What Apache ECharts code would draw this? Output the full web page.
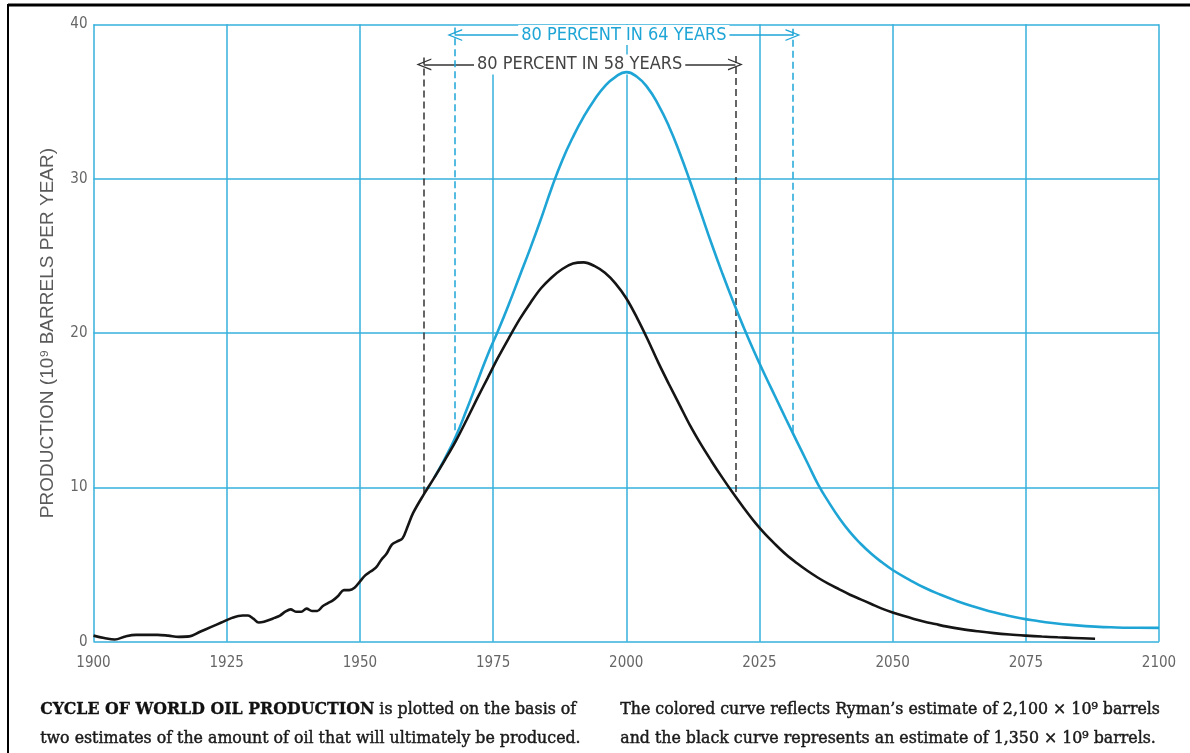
<!DOCTYPE html>
<html>
<head>
<meta charset="utf-8">
<script src="https://cdn.jsdelivr.net/npm/echarts@6/dist/echarts.min.js"></script>
<style>
html,body{margin:0;padding:0;background:#fff;}
#c{width:1190px;height:753px;}
</style>
</head>
<body>
<div id="c"></div>
<script>
// ---- data ----
const blackYears = [1900,1902,1904,1906,1908,1910,1912,1914,1916,1918,1920,1922,1924,1926,1928,1929,1930,1931,1932,1934,1935,1936,1937,1938,1939,1940,1941,1942,1943,1944,1945,1946,1947,1948,1949,1950,1951,1952,1953,1954,1955,1956,1957,1958,1959,1960,1962,1964,1966,1968,1970,1972,1974,1976,1978,1980,1982,1984,1986,1988,1990,1992,1994,1996,1998,2000,2002,2004,2006,2008,2010,2012,2014,2016,2018,2020,2022,2024,2026,2028,2030,2032,2034,2036,2038,2040,2042,2044,2046,2048,2050,2052,2054,2056,2058,2060,2063,2066,2069,2072,2075,2078,2081,2084,2088];
const blackValues = [0.4,0.25,0.15,0.35,0.45,0.45,0.45,0.4,0.32,0.35,0.65,0.95,1.25,1.55,1.7,1.7,1.5,1.25,1.3,1.55,1.7,1.95,2.1,1.95,1.95,2.15,2.0,2.0,2.3,2.5,2.7,3.0,3.35,3.35,3.5,3.9,4.3,4.55,4.8,5.3,5.7,6.3,6.5,6.7,7.5,8.35,9.55,10.65,11.8,13.0,14.35,15.75,17.1,18.45,19.7,20.9,21.95,22.9,23.6,24.15,24.5,24.58,24.35,23.9,23.2,22.25,21.0,19.6,18.1,16.7,15.35,14.0,12.8,11.7,10.65,9.65,8.7,7.8,7.0,6.3,5.65,5.1,4.6,4.15,3.75,3.4,3.05,2.75,2.45,2.15,1.9,1.68,1.48,1.3,1.15,1.0,0.82,0.68,0.56,0.47,0.4,0.34,0.29,0.25,0.2];

const cyanYears = [1964,1966,1968,1970,1972,1974,1976,1978,1980,1982,1984,1986,1988,1990,1992,1994,1996,1998,2000,2002,2004,2006,2008,2010,2012,2014,2016,2018,2020,2022,2024,2026,2028,2030,2032,2034,2036,2038,2040,2042,2044,2046,2048,2050,2053,2056,2059,2062,2065,2068,2071,2074,2077,2080,2084,2088,2092,2096,2100];
const cyanValues = [10.65,11.9,13.3,15.0,16.8,18.6,20.2,21.9,23.7,25.5,27.4,29.4,31.2,32.7,34.0,35.1,36.0,36.6,36.9,36.6,35.9,34.8,33.4,31.7,29.8,27.8,25.8,23.9,22.1,20.4,18.8,17.3,15.86,14.42,13.0,11.6,10.2,9.05,8.0,7.1,6.35,5.7,5.15,4.65,4.05,3.5,3.05,2.65,2.3,2.0,1.75,1.53,1.36,1.22,1.08,0.98,0.93,0.91,0.9];

const xTicks = [1900,1925,1950,1975,2000,2025,2050,2075,2100];
const xTickTops = [40,40,40,36.8,40,40,40,40,40];

const blackSpanYears = [1962, 2020.5];
const blackSpanBottoms = [9.6, 9.7];
const blackSpanTop = 38.0;
const blackArrowLevel = 37.4;
const blackSpanLabel = '80 PERCENT IN 58 YEARS';

const cyanSpanYears = [1967.8, 2031.3];
const cyanSpanBottoms = [13.7, 13.6];
const cyanSpanTop = 39.8;
const cyanArrowLevel = 39.3;
const cyanSpanLabel = '80 PERCENT IN 64 YEARS';

const yAxisTitle = 'PRODUCTION (10\u2079 BARRELS PER YEAR)';
const captionLeft = ['{b|CYCLE OF WORLD OIL PRODUCTION} is plotted on the basis of', 'two estimates of the amount of oil that will ultimately be produced.'];
const captionRight = ['The colored curve reflects Ryman\u2019s estimate of 2,100 \u00d7 10\u2079 barrels', 'and the black curve represents an estimate of 1,350 \u00d7 10\u2079 barrels.'];

// ---- styles ----
const CYAN = '#1ea5d6';
const GRID = '#35b0dc';
const NARROW = "'Liberation Sans Narrow','DejaVu Sans Condensed','Roboto Condensed','Liberation Sans',sans-serif";
const SERIF = "'DejaVu Serif','Liberation Serif',serif";
const chevron = 'path://M5,0 L10,11 L8.9,11 L5,2.4 L1.1,11 L0,11 Z';

const chart = echarts.init(document.getElementById('c'), null, {renderer: 'canvas'});

const gridLines = xTicks.map((yr, i) => [{coord: [yr, 0]}, {coord: [yr, xTickTops[i]]}]);
function dashPair(years, bottoms, top) {
  return years.map((yr, i) => [{coord: [yr, bottoms[i]]}, {coord: [yr, top]}]);
}
function arrowPair(years, level, label, color) {
  return [[
    {coord: [years[0], level], symbol: chevron, symbolSize: [12, 15],
      lineStyle: {type: 'solid', color: color, width: 1.5},
      label: {show: true, position: 'middle', formatter: label, color: color === CYAN ? CYAN : '#444',
        fontSize: 18, fontFamily: NARROW, backgroundColor: '#fff', padding: [1, 3],
        verticalAlign: 'middle', distance: 0}},
    {coord: [years[1], level], symbol: chevron, symbolSize: [12, 15]}
  ]];
}

const bodyText = {font: "15.8px " + SERIF, fill: '#1a1a1a', lineHeight: 29,
  stroke: '#1a1a1a', lineWidth: 0.45};

const option = {
  backgroundColor: '#fff',
  animation: false,
  grid: {left: 93.5, right: 31, top: 24.3, bottom: 111.2, containLabel: false},
  xAxis: {
    type: 'value', min: 1900, max: 2100, interval: 25,
    axisLine: {show: false}, axisTick: {show: false},
    splitLine: {show: false},
    axisLabel: {color: '#666', fontSize: 15, fontFamily: NARROW, margin: 14,
      formatter: v => String(v)}
  },
  yAxis: {
    type: 'value', min: 0, max: 40, interval: 10,
    axisLine: {show: false}, axisTick: {show: false},
    splitLine: {show: true, lineStyle: {color: GRID, width: 1.5}},
    axisLabel: {color: '#666', fontSize: 15, fontFamily: NARROW, margin: 6},
    name: yAxisTitle, nameLocation: 'middle', nameGap: 36, nameRotate: 90,
    nameTextStyle: {color: '#5a5a5a', fontSize: 19, fontFamily: "'Liberation Sans',sans-serif"}
  },
  series: [
    {
      name: 'grid', type: 'line', data: [], silent: true,
      markLine: {silent: true, symbol: ['none', 'none'], label: {show: false},
        lineStyle: {color: GRID, width: 1.5, type: 'solid'}, data: gridLines}
    },
    {
      name: 'blackSpan', type: 'line', data: [], silent: true,
      markLine: {silent: true, symbol: ['none', 'none'], label: {show: false},
        lineStyle: {color: '#333', width: 1.5, type: [7, 4]},
        data: dashPair(blackSpanYears, blackSpanBottoms, blackSpanTop)
          .concat(arrowPair(blackSpanYears, blackArrowLevel, blackSpanLabel, '#333'))}
    },
    {
      name: 'cyanSpan', type: 'line', data: [], silent: true,
      markLine: {silent: true, symbol: ['none', 'none'], label: {show: false},
        lineStyle: {color: CYAN, width: 1.5, type: [7, 4]},
        data: dashPair(cyanSpanYears, cyanSpanBottoms, cyanSpanTop)
          .concat(arrowPair(cyanSpanYears, cyanArrowLevel, cyanSpanLabel, CYAN))}
    },
    {
      name: 'Ryman 2,100', type: 'line', smooth: 0.5, showSymbol: false, symbol: 'none',
      lineStyle: {color: CYAN, width: 2.6}, z: 5,
      data: cyanYears.map((y, i) => [y, cyanValues[i]])
    },
    {
      name: '1,350', type: 'line', smooth: 0.35, showSymbol: false, symbol: 'none',
      lineStyle: {color: '#151515', width: 2.6}, z: 6,
      data: blackYears.map((y, i) => [y, blackValues[i]])
    }
  ],
  graphic: [
    {type: 'line', shape: {x1: 8, y1: 5, x2: 1190, y2: 5}, style: {stroke: '#000', lineWidth: 3}},
    {type: 'line', shape: {x1: 8, y1: 4, x2: 8, y2: 753}, style: {stroke: '#000', lineWidth: 2}},
    {type: 'text', left: 40, top: 695, style: Object.assign({}, bodyText, {
      text: captionLeft.join('\n'),
      rich: {b: {fontWeight: 'bold', fontSize: 15.8, fontFamily: SERIF, fill: '#111', stroke: '#111', lineWidth: 0.3}}
    })},
    {type: 'text', left: 620, top: 695, style: Object.assign({}, bodyText, {
      text: captionRight.join('\n')
    })}
  ]
};
chart.setOption(option);
</script>
</body>
</html>
